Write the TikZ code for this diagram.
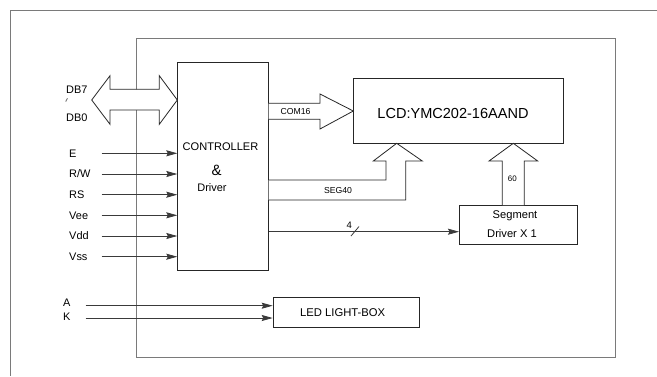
\documentclass[tikz,border=0pt]{standalone}
\usepackage{fontspec}
\setmainfont{Liberation Sans}
\usetikzlibrary{arrows.meta}
\definecolor{framegray}{HTML}{7A7A7A}
\definecolor{linegray}{HTML}{3A3A3A}
\tikzset{
  blk/.style={draw=black!85, line width=0.8bp, inner sep=0pt, anchor=north west},
  sig/.style={draw=linegray, line width=0.8bp, -{Stealth[length=11bp,width=6bp,inset=1.5bp]}},
  bus/.style={draw=black!85, line width=0.8bp, fill=white, line join=miter},
  wire/.style={draw=linegray, line width=0.8bp},
  lbl/.style={inner sep=0pt, anchor=west, font=\fontsize{11}{12}\selectfont},
  sml/.style={inner sep=0pt, font=\fontsize{8.7}{10}\selectfont},
  frame/.style={draw=framegray, line width=1bp}
}
\begin{document}
\begin{tikzpicture}[x=1bp,y=-1bp]
\useasboundingbox (0,0) rectangle (657,376);
% outer frame (partially visible)
\draw[frame] (657,10) -- (10,10) -- (10,376);
% inner frame
\draw[frame] (136,38) rectangle (615,357);

% boxes
\node[blk, minimum width=90.4bp, minimum height=207.7bp] (ctrl) at (177.3,62.3) {};
\node[blk, minimum width=209.4bp, minimum height=65bp] (lcd) at (353.3,78.3) {};
\node[blk, minimum width=118.3bp, minimum height=39bp] (seg) at (459,205) {};
\node[blk, minimum width=146.3bp, minimum height=30bp] (led) at (272.7,297.3) {};

% box texts
\node[inner sep=0pt, font=\fontsize{14.6}{16}\selectfont] (lcdt) at (453,113) {LCD:YMC202-16AAND};
\node[inner sep=0pt, font=\fontsize{11.1}{13}\selectfont] (ct1) at (220.5,146.7) {CONTROLLER};
\node[inner sep=0pt, font=\fontsize{15}{16}\selectfont] (ct2) at (216.7,170) {\&};
\node[inner sep=0pt, font=\fontsize{11}{13}\selectfont] (ct3) at (212,187.3) {Driver};
\node[inner sep=0pt, font=\fontsize{11.2}{13}\selectfont] (st1) at (515,215.7) {Segment};
\node[inner sep=0pt, font=\fontsize{11.2}{13}\selectfont] (st2) at (512,233.3) {Driver X 1};
\node[inner sep=0pt, font=\fontsize{11.3}{13}\selectfont] (ledt) at (342.7,312.3) {LED LIGHT-BOX};

% DB double hollow arrow
\draw[bus] (91.7,100) -- (110,75.7) -- (110,89.3) -- (159.3,89.3) -- (159.3,75.7)
  -- (ctrl.west |- 0,100) -- (159.3,124.3) -- (159.3,110) -- (110,110) -- (110,124.3) -- cycle;
\node[lbl] (db7) at (66,89.3) {DB7};
\node[inner sep=0pt, font=\fontsize{8}{8}\selectfont, rotate=70] (dbt) at (67.7,101) {\textasciitilde};
\node[lbl] (db0) at (66,117.3) {DB0};

% COM16 hollow arrow
\draw[bus] (ctrl.east |- 0,103.3) -- (320,103.3) -- (320,94) -- (lcd.west |- 0,111)
  -- (320,129) -- (320,119.3) -- (ctrl.east |- 0,119.3);
\node[sml] (com) at (295.5,112) {COM16};

% SEG40 hollow arrow
\draw[bus] (ctrl.east |- 0,180) -- (386,180) -- (386,161) -- (373.3,161) -- (396.7,143.3)
  -- (422.3,161) -- (405.7,161) -- (405.7,200) -- (ctrl.east |- 0,200);
\node[sml] (seg40) at (338,191) {SEG40};

% 60 hollow arrow
\draw[bus] (502.3,205) -- (502.3,161) -- (489,161) -- (513.3,143.3) -- (537.7,161)
  -- (524.3,161) -- (524.3,205);
\node[sml, font=\fontsize{8}{9}\selectfont] (n60) at (512.3,179) {60};

% 4-line to segment driver
\draw[sig] (ctrl.east |- 0,231.7) -- (seg.west |- 0,231.7);
\draw[wire] (351,236) -- (359,226.5);
\node[inner sep=0pt, font=\fontsize{9.5}{10}\selectfont] (n4) at (349.3,225) {4};

% input signals
\foreach \nm/\yy in {E/153.3, R\slash W/174, RS/194.7, Vee/215.3, Vdd/236, Vss/256.7}{
  \coordinate (s) at (101.7,\yy);
  \draw[sig] (s) -- (s -| ctrl.west);
  \node[lbl] at (69,\yy) {\nm};
}

% A / K
\coordinate (sa) at (85.7,305.7);
\coordinate (sk) at (85.7,318);
\draw[sig] (sa) -- (sa -| led.west);
\draw[sig] (sk) -- (sk -| led.west);
\node[lbl] (la) at (63,303) {A};
\node[lbl] (lk) at (63,317) {K};
\end{tikzpicture}
\end{document}
